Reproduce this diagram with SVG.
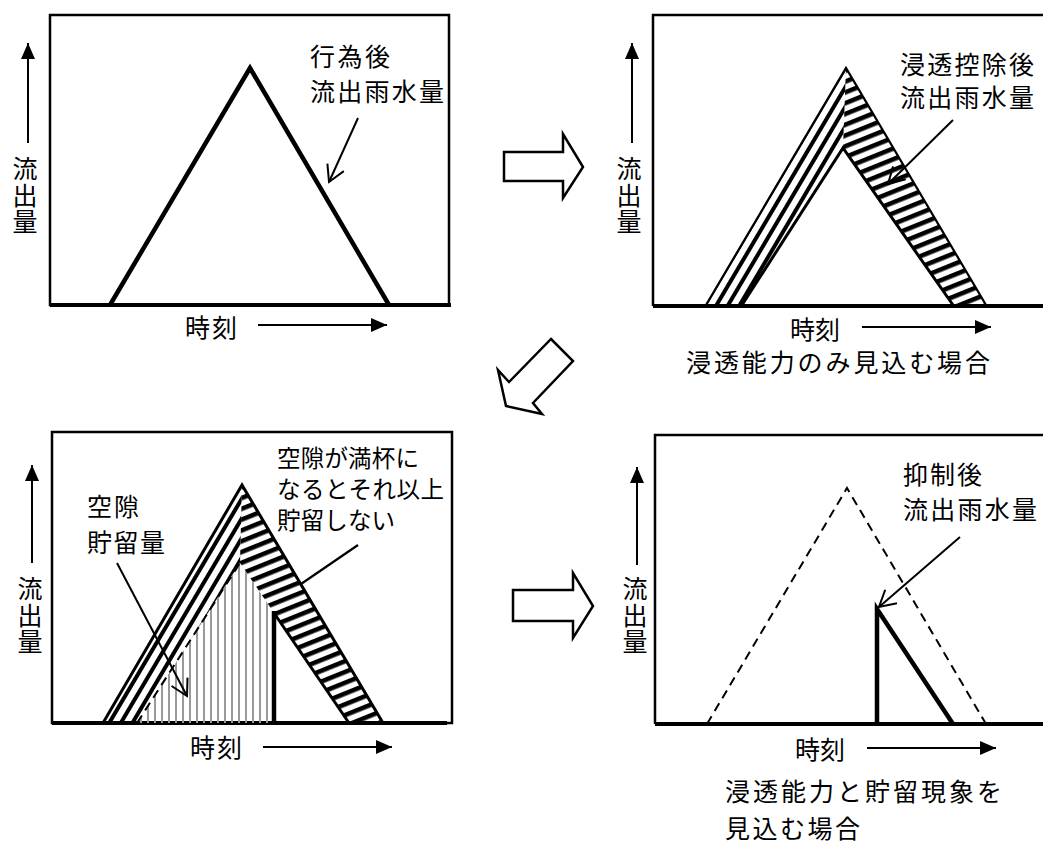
<svg xmlns="http://www.w3.org/2000/svg" width="1043" height="843" viewBox="0 0 1043 843">
<style>
.t{font-family:"Noto Sans CJK JP","Noto Sans CJK SC",sans-serif;font-size:25px;fill:#000}
.s{font-size:23.5px}
.v{font-family:"Noto Sans CJK JP","Noto Sans CJK SC",sans-serif;font-size:25px;fill:#000;writing-mode:vertical-rl;letter-spacing:1.5px}
.frame{fill:none;stroke:#000;stroke-width:2.5}
.base{fill:none;stroke:#000;stroke-width:4}
.axis{fill:none;stroke:#000;stroke-width:2;marker-end:url(#ah)}
.lead{fill:none;stroke:#000;stroke-width:2;marker-end:url(#oh)}
.thick{fill:none;stroke:#000;stroke-width:4.5;stroke-linejoin:miter}
.mid{fill:none;stroke:#000;stroke-width:3}
.thin{fill:none;stroke:#000;stroke-width:2.2}
.dash{fill:none;stroke:#000;stroke-width:2;stroke-dasharray:9 6}
.block{fill:#fff;stroke:#000;stroke-width:2.5;stroke-linejoin:miter}
</style>
<defs>
<marker id="ah" markerUnits="userSpaceOnUse" markerWidth="16" markerHeight="14" refX="16" refY="7" orient="auto"><path d="M0,0 L16,7 L0,14 z" fill="#000"/></marker>
<marker id="oh" markerUnits="userSpaceOnUse" markerWidth="20" markerHeight="22" refX="17" refY="10" orient="auto"><path d="M1,1 L17,10 L1,19" fill="none" stroke="#000" stroke-width="2"/></marker>
<pattern id="hR" patternUnits="userSpaceOnUse" width="20" height="10" patternTransform="rotate(-22)"><rect x="0" y="0" width="20" height="4.6" fill="#000"/></pattern>
<pattern id="hL" patternUnits="userSpaceOnUse" width="20" height="10" patternTransform="rotate(-59.4)"><rect x="0" y="0" width="20" height="4" fill="#000"/></pattern>
<pattern id="hV" patternUnits="userSpaceOnUse" width="7" height="10"><rect x="0" y="0" width="2" height="10" fill="#9a9a9a"/></pattern>
</defs>
<rect width="1043" height="843" fill="#fff"/>

<g id="panel1">
<rect class="frame" x="50" y="15" width="399" height="290"/>
<line class="base" x1="50" y1="305" x2="451" y2="305"/>
<polyline class="thick" points="110,305 250,68 389,305"/>
<line class="axis" x1="28" y1="143" x2="28" y2="43"/>
<text class="v" x="25" y="156">流出量</text>
<text class="t" x="185" y="337" textLength="52" lengthAdjust="spacing">時刻</text>
<line class="axis" x1="258" y1="325" x2="387" y2="325"/>
<text class="t" x="310" y="66" textLength="80" lengthAdjust="spacing">行為後</text>
<text class="t" x="310" y="101" textLength="134" lengthAdjust="spacing">流出雨水量</text>
</g>

<g id="panel2">
<polyline class="frame" points="1045,15 653,15 653,306"/>
<line class="base" x1="653" y1="306" x2="1045" y2="306"/>
<polygon points="706,305 846,68 843,148 742,305" fill="url(#hL)"/>
<polygon points="846,68 986,305 953,305 843,148" fill="url(#hR)"/>
<polyline class="thin" points="706,305 846,68 986,305"/>
<polyline class="mid" points="742,305 843,148 953,305"/>
<line class="axis" x1="632" y1="143" x2="632" y2="43"/>
<text class="v" x="629" y="156">流出量</text>
<text class="t" x="790" y="339" textLength="50" lengthAdjust="spacing">時刻</text>
<line class="axis" x1="862" y1="327" x2="991" y2="327"/>
<text class="t" x="900" y="74" textLength="134" lengthAdjust="spacing">浸透控除後</text>
<text class="t" x="900" y="107" textLength="134" lengthAdjust="spacing">流出雨水量</text>
<text class="t" x="686" y="372" textLength="304" lengthAdjust="spacing">浸透能力のみ見込む場合</text>
</g>

<g id="panel3">
<rect class="frame" x="52" y="432" width="400" height="291"/>
<line class="base" x1="52" y1="723" x2="447" y2="723"/>
<polygon points="103,723 242,485 240,563 137,723" fill="url(#hL)"/>
<polygon points="242,485 383,723 349,723 240,563" fill="url(#hR)"/>
<polygon points="137,723 240,563 274,613 274,723" fill="url(#hV)"/>
<polyline class="mid" points="103,723 242,485 383,723"/>
<line class="dash" x1="137" y1="723" x2="240" y2="563"/>
<line class="mid" x1="274" y1="613" x2="349" y2="723"/>
<line class="thick" x1="274" y1="611" x2="274" y2="723"/>
<line class="axis" x1="32" y1="563" x2="32" y2="465"/>
<text class="v" x="30" y="576">流出量</text>
<text class="t" x="190" y="757" textLength="52" lengthAdjust="spacing">時刻</text>
<line class="axis" x1="263" y1="747" x2="392" y2="747"/>
<text class="t" x="87" y="516" textLength="52" lengthAdjust="spacing">空隙</text>
<text class="t" x="87" y="552" textLength="78" lengthAdjust="spacing">貯留量</text>
<text class="t s" x="277" y="467" textLength="142" lengthAdjust="spacing">空隙が満杯に</text>
<text class="t s" x="277" y="498" textLength="167" lengthAdjust="spacing">なるとそれ以上</text>
<text class="t s" x="277" y="529" textLength="118" lengthAdjust="spacing">貯留しない</text>
</g>

<g id="panel4">
<polyline class="frame" points="1045,435 655,435 655,724"/>
<line class="base" x1="655" y1="724" x2="1045" y2="724"/>
<polyline class="dash" points="707,724 847,488 986,724"/>
<polyline class="thick" points="877,724 877,609 953,724"/>
<line class="axis" x1="637" y1="565" x2="637" y2="467"/>
<text class="v" x="635" y="576">流出量</text>
<text class="t" x="795" y="759" textLength="50" lengthAdjust="spacing">時刻</text>
<line class="axis" x1="867" y1="748" x2="996" y2="748"/>
<text class="t" x="903" y="484" textLength="79" lengthAdjust="spacing">抑制後</text>
<text class="t" x="903" y="519" textLength="134" lengthAdjust="spacing">流出雨水量</text>
<text class="t" x="725" y="801" textLength="277" lengthAdjust="spacing">浸透能力と貯留現象を</text>
<text class="t" x="725" y="838" textLength="135" lengthAdjust="spacing">見込む場合</text>
</g>

<g id="block-arrows">
<polygon class="block" points="504,152 563,152 563,134 583,167 563,198 563,181 504,181"/>
<polygon class="block" points="551,339 573,361 533,403 542,414 506,406 498,370 509,382"/>
<polygon class="block" points="513,590 573,590 573,573 593,606 573,638 573,621 513,621"/>
</g>

<g id="connectors">
<line class="lead" x1="358" y1="118" x2="329" y2="182"/>
<line class="lead" x1="953" y1="120" x2="888" y2="184"/>
<line class="lead" x1="117" y1="563" x2="187" y2="696"/>
<line class="thin" x1="358" y1="545" x2="301" y2="584"/>
<line class="lead" x1="960" y1="537" x2="879" y2="607"/>
</g>
</svg>
